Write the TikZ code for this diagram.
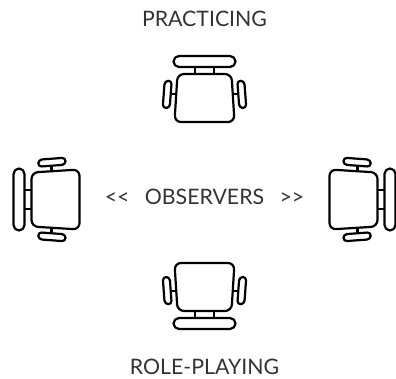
\documentclass[tikz,border=0pt]{standalone}
\usepackage{fontspec}
\setmainfont{Lato}
\tikzset{
  lbl/.style={inner sep=0pt,text=black!80,font=\fontsize{21.3}{24}\selectfont},
  ln/.style={draw=black,line width=2.2pt,line join=round},
  pics/chair/.style={code={
    \draw[ln,rounded corners=5.5pt] (-31,31) rectangle (31,42);
    \draw[ln] (-9.5,24) -- (-9.5,31) (9.5,24) -- (9.5,31);
    \draw[ln,rounded corners=6.5pt] (-27,24) -- (27,24) -- (30,-24) -- (-30,-24) -- cycle;
    \draw[ln,rounded corners=3.5pt] (-39.8,17) -- (-32.8,17.4) -- (-34.8,-10) -- (-41.8,-10) -- cycle;
    \draw[ln,rounded corners=3.5pt] (39.8,17) -- (32.8,17.4) -- (34.8,-10) -- (41.8,-10) -- cycle;
    \draw[ln] (-33.8,4) -- (-28.3,4) (33.8,4) -- (28.3,4);
  }}
}
\begin{document}
\begin{tikzpicture}[x=1pt,y=1pt]
\useasboundingbox (0,0) rectangle (396,378);
\pic at (204.5,280) {chair};
\pic[rotate=180] at (204.5,91) {chair};
\pic[rotate=90] at (55.5,178.5) {chair};
\pic[rotate=-90] at (353.5,178.5) {chair};
\node[lbl] (practicing) at (204.5,359.3) {PRACTICING};
\node[lbl] (observers) at (204.5,181) {{<}{<}\hspace{0.72em}OBSERVERS\hspace{0.72em}{>}{>}};
\node[lbl] (roleplaying) at (204.5,11) {ROLE-PLAYING};
\end{tikzpicture}
\end{document}
